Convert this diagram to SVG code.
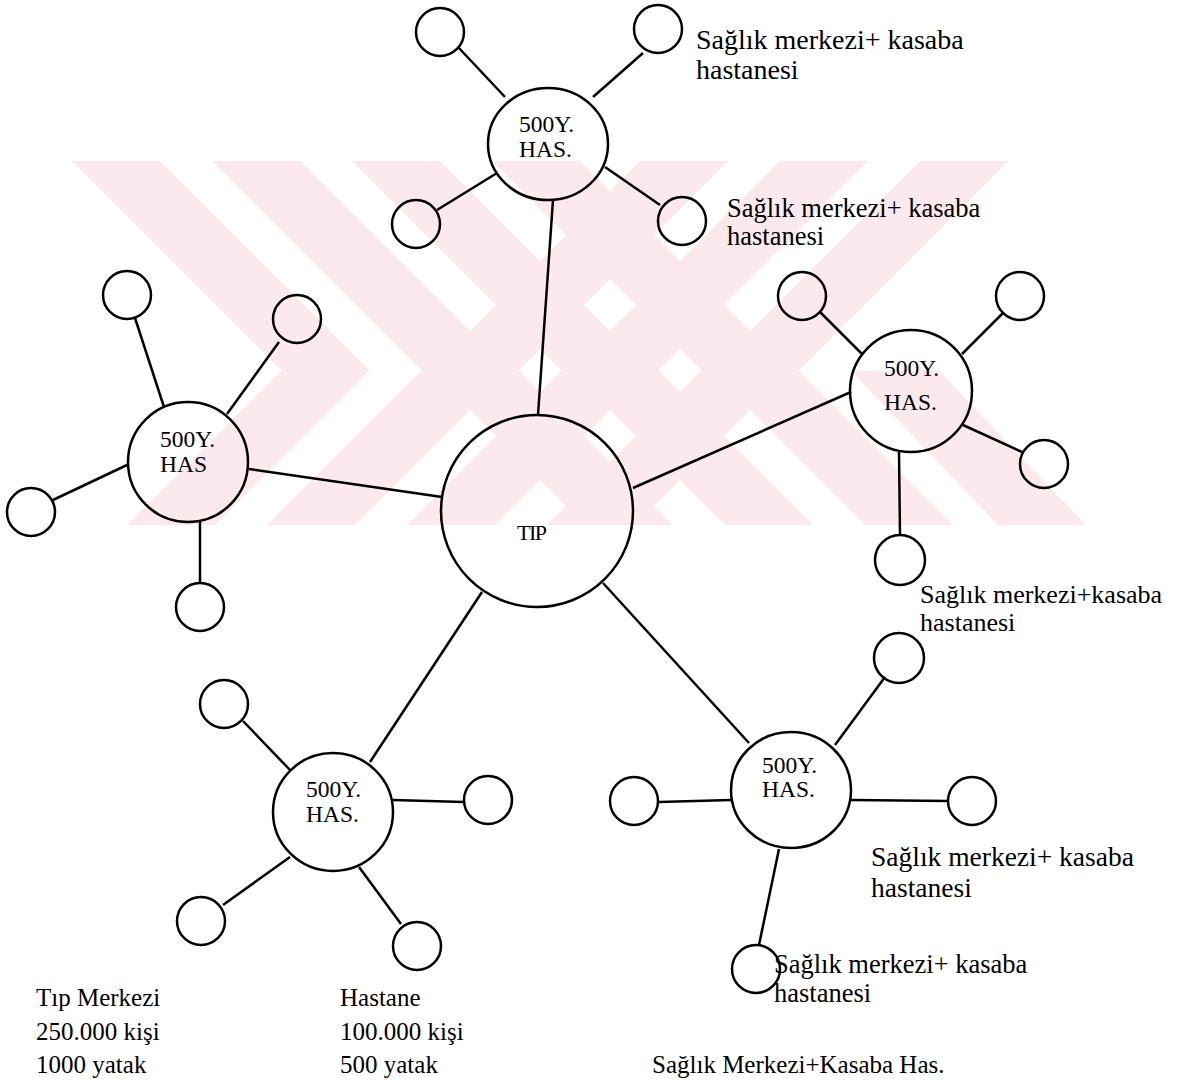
<svg xmlns="http://www.w3.org/2000/svg" width="1184" height="1081" viewBox="0 0 1184 1081">
<style>
.n{fill:none;stroke:#000;stroke-width:2.5}
.c line{stroke:#000;stroke-width:2.5}
.t{font-family:"Liberation Serif","Times New Roman",serif;fill:#000}
.h{font-size:23.5px}
.b{font-size:25px}
.wm{fill:#fce9ed}
</style>
<defs><clipPath id="cp"><rect x="0" y="161" width="1184" height="364"/></clipPath></defs>
<rect width="1184" height="1081" fill="#fff"/>
<g id="watermark" clip-path="url(#cp)">
<polygon class="wm" points="51,140 139,140 369.5,370.5 195,545 107,545 281.5,370.5"/>
<polygon class="wm" points="191,140 279,140 509.5,370.5 335,545 247,545 421.5,370.5"/>
<polygon class="wm" points="331,140 419,140 649.5,370.5 475,545 387,545 561.5,370.5"/>
<polygon class="wm" points="471,140 559,140 789.5,370.5 615,545 527,545 701.5,370.5"/>
<polygon class="wm" points="1029,140 941,140 710.5,370.5 885,545 973,545 798.5,370.5"/>
<polygon class="wm" points="889,140 801,140 570.5,370.5 745,545 833,545 658.5,370.5"/>
<polygon class="wm" points="749,140 661,140 430.5,370.5 605,545 693,545 518.5,370.5"/>
<polygon class="wm" points="850.5,370.5 938.5,370.5 1105,545 1017,545"/>
</g>
<g id="connectors" class="c">
<line x1="553" y1="200" x2="538" y2="415"/>
<line x1="249" y1="469" x2="442" y2="497"/>
<line x1="851" y1="392" x2="633" y2="488"/>
<line x1="482" y1="592" x2="370" y2="762"/>
<line x1="603" y1="583" x2="749" y2="743"/>
<line x1="458" y1="47" x2="505" y2="97"/>
<line x1="643" y1="53" x2="593" y2="97"/>
<line x1="437" y1="210" x2="497" y2="173"/>
<line x1="660" y1="205" x2="605" y2="167"/>
<line x1="135" y1="318" x2="164" y2="407"/>
<line x1="279" y1="342" x2="227" y2="414"/>
<line x1="53" y1="500" x2="127" y2="465"/>
<line x1="200" y1="522" x2="200" y2="583"/>
<line x1="820" y1="312" x2="862" y2="354"/>
<line x1="1003" y1="313" x2="962" y2="354"/>
<line x1="963" y1="425" x2="1022" y2="452"/>
<line x1="899" y1="452" x2="900" y2="535"/>
<line x1="243" y1="721" x2="290" y2="770"/>
<line x1="393" y1="800" x2="464" y2="802"/>
<line x1="223" y1="905" x2="290" y2="857"/>
<line x1="359" y1="867" x2="401" y2="924"/>
<line x1="835" y1="745" x2="885" y2="677"/>
<line x1="659" y1="802" x2="731" y2="800"/>
<line x1="851" y1="800" x2="948" y2="801"/>
<line x1="779" y1="849" x2="759" y2="945"/>
</g>
<g id="tip"><ellipse class="n" cx="537" cy="511" rx="96" ry="96"/><text class="t" x="517" y="540" font-size="22" letter-spacing="-1.5">TIP</text></g>
<g id="hub-top"><ellipse class="n" cx="548" cy="144" rx="60" ry="56"/><text class="t h" x="519" y="132">500Y.</text><text class="t h" x="519" y="157">HAS.</text></g>
<g id="hub-left"><ellipse class="n" cx="188" cy="462" rx="60" ry="60"/><text class="t h" x="160" y="447">500Y.</text><text class="t h" x="160" y="472">HAS</text></g>
<g id="hub-right"><ellipse class="n" cx="911" cy="391" rx="61" ry="61"/><text class="t h" x="884" y="376">500Y.</text><text class="t h" x="884" y="410">HAS.</text></g>
<g id="hub-bottom-left"><ellipse class="n" cx="333" cy="812" rx="60" ry="59"/><text class="t h" x="306" y="797">500Y.</text><text class="t h" x="306" y="822">HAS.</text></g>
<g id="hub-bottom-right"><ellipse class="n" cx="791" cy="790" rx="60" ry="58"/><text class="t h" x="762" y="773">500Y.</text><text class="t h" x="762" y="797">HAS.</text></g>
<g id="c1"><circle class="n" cx="440" cy="32" r="24"/></g>
<g id="c2"><circle class="n" cx="658" cy="29" r="24"/></g>
<g id="c3"><circle class="n" cx="416" cy="224" r="24"/></g>
<g id="c4"><circle class="n" cx="682" cy="221" r="24"/></g>
<g id="c5"><circle class="n" cx="127" cy="295" r="24"/></g>
<g id="c6"><circle class="n" cx="297" cy="319" r="24"/></g>
<g id="c7"><circle class="n" cx="31" cy="512" r="24"/></g>
<g id="c8"><circle class="n" cx="200" cy="607" r="24"/></g>
<g id="c9"><circle class="n" cx="802" cy="296" r="24"/></g>
<g id="c10"><circle class="n" cx="1020" cy="296" r="24"/></g>
<g id="c11"><circle class="n" cx="1044" cy="464" r="24"/></g>
<g id="c12"><circle class="n" cx="900" cy="560" r="25"/></g>
<g id="c13"><circle class="n" cx="224" cy="704" r="24"/></g>
<g id="c14"><circle class="n" cx="488" cy="800" r="24"/></g>
<g id="c15"><circle class="n" cx="201" cy="921" r="24"/></g>
<g id="c16"><circle class="n" cx="417" cy="946" r="24"/></g>
<g id="c17"><circle class="n" cx="899" cy="658" r="25"/></g>
<g id="c18"><circle class="n" cx="634" cy="801" r="24"/></g>
<g id="c19"><circle class="n" cx="972" cy="801" r="24"/></g>
<g id="c20"><circle class="n" cx="756" cy="969" r="24"/></g>
<g id="labels" class="t">
<text x="696" y="49" font-size="28">Sağlık merkezi+ kasaba</text><text x="696" y="79" font-size="28">hastanesi</text>
<text x="727" y="217" font-size="26.5">Sağlık merkezi+ kasaba</text><text x="727" y="245" font-size="26.5">hastanesi</text>
<text x="920" y="603" font-size="26">Sağlık merkezi+kasaba</text><text x="920" y="631" font-size="26">hastanesi</text>
<text x="871" y="866" font-size="27.5">Sağlık merkezi+ kasaba</text><text x="871" y="897" font-size="27.5">hastanesi</text>
<text x="774" y="973" font-size="26.5">Sağlık merkezi+ kasaba</text><text x="774" y="1002" font-size="26.5">hastanesi</text>
</g>
<g id="legend" class="t b">
<text x="36" y="1006">Tıp Merkezi</text><text x="36" y="1040">250.000 kişi</text><text x="36" y="1073">1000 yatak</text>
<text x="340" y="1006">Hastane</text><text x="340" y="1040">100.000 kişi</text><text x="340" y="1073">500 yatak</text>
<text x="652" y="1073">Sağlık Merkezi+Kasaba Has.</text>
</g>
</svg>
